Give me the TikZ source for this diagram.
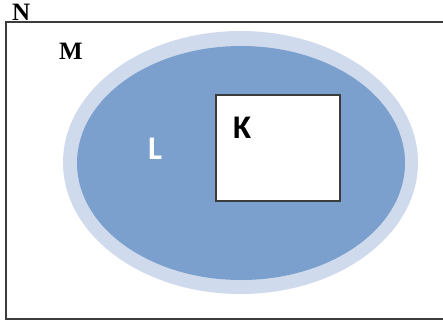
\documentclass[tikz,border=0pt]{standalone}
\usepackage{fontspec}
\setmainfont{Liberation Serif}
\newfontfamily\labelsans{Carlito}
\definecolor{ringblue}{HTML}{CFDBEC}
\definecolor{setblue}{HTML}{7BA0CD}
\definecolor{frame}{HTML}{3C3C3C}
\tikzset{
  setlabel/.style={anchor=base west, inner sep=0pt, font=\bfseries\fontsize{25}{25}\selectfont},
  sanslabel/.style={anchor=base west, inner sep=0pt, font=\labelsans\bfseries\fontsize{33}{33}\selectfont},
}
\begin{document}
\begin{tikzpicture}[x=1pt,y=-1pt]
  \useasboundingbox (0,0) rectangle (443,324);
  \clip (0,0) rectangle (443,324);
  % universe N
  \draw[frame, line width=1.4pt] (6,22) rectangle (450,319);
  % set M (pale ring) and set L
  \fill[ringblue] (240.5,162.5) ellipse [x radius=177.5, y radius=131.5];
  \fill[setblue] (241,163) ellipse [x radius=164, y radius=117];
  % set K
  \draw[frame, fill=white, line width=1.2pt] (216,95) rectangle (340,201);
  \node[setlabel] (n) at (12,20) {N};
  \node[setlabel] (m) at (59,59) {M};
  \node[sanslabel, text=white] (l) at (148,159) {L};
  \node[sanslabel] (k) at (233,138) {K};
\end{tikzpicture}
\end{document}
